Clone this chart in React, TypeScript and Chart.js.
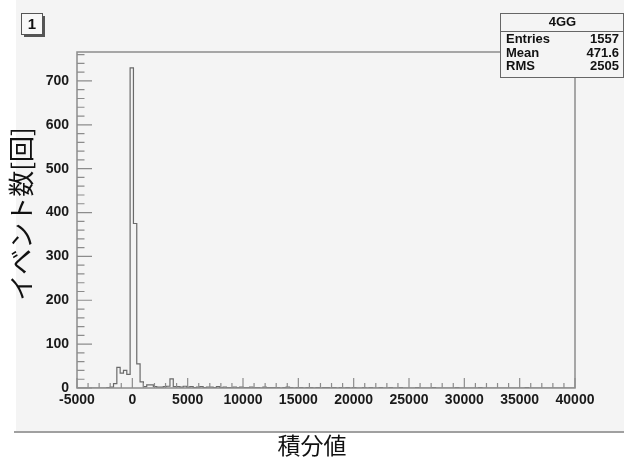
import React, { useEffect, useRef } from 'react';
import { Chart, registerables } from 'chart.js';

Chart.register(...registerables);

// ---- data ----
const X_MIN = -5000;
const X_MAX = 40000;
const BIN_WIDTH = 300;
const Y_MAX = 766;

// bin contents (150 bins of 300 from -5000 to 40000)
const counts: number[] = [
  0, 0, 0, 0, 0, 0, 0, 0, 0, 1,
  2, 10, 47, 34, 40, 31, 730, 375, 55, 14,
  3, 7, 7, 3, 2, 2, 3, 4, 21, 3,
  3, 2, 4, 2, 3, 1, 2, 3, 1, 2,
  2, 1, 3, 1, 2, 1, 1, 2, 1, 2,
  1, 1, 2, 1, 1, 0, 2, 1, 1, 1,
  1, 0, 1, 2, 1, 0, 1, 1, 0, 1,
  1, 0, 1, 0, 1, 1, 0, 1, 0, 1,
  0, 1, 0, 1, 0, 0, 1, 0, 1, 0,
  0, 1, 0, 0, 1, 0, 0, 1, 0, 0,
  0, 0, 1, 0, 0, 0, 0, 1, 0, 0,
  0, 0, 0, 0, 1, 0, 0, 0, 0, 0,
  0, 1, 0, 0, 0, 0, 0, 0, 0, 0,
  0, 0, 0, 0, 0, 1, 0, 0, 0, 0,
  0, 0, 0, 0, 0, 0, 0, 0, 0, 0,
];

const xTitle = '積分値';
const yTitle = 'イベント数[回]';
const padLabel = '1';
const statsTitle = '4GG';
const statsNames = ['Entries', 'Mean', 'RMS'];
const statsValues = ['1557', '471.6', '2505'];

const STATS_FONT = 'bold 13px "Liberation Sans", Arial, sans-serif';
const CJK_FAMILY = '"Noto Sans CJK JP", sans-serif';

export default function App() {
  const ref = useRef<HTMLCanvasElement | null>(null);

  useEffect(() => {
    document.body.style.margin = '0';
    const canvas = ref.current;
    if (!canvas) return;

    const points = counts.map((c, k) => ({ x: X_MIN + k * BIN_WIDTH, y: c }));
    points.push({ x: X_MIN + counts.length * BIN_WIDTH, y: 0 });

    const decor = {
      id: 'rootDecor',
      beforeDraw(chart: any) {
        const ctx = chart.ctx;
        ctx.save();
        ctx.fillStyle = '#ffffff';
        ctx.fillRect(0, 0, chart.width, chart.height);
        ctx.fillStyle = '#f4f4f4';
        ctx.fillRect(16, 0, chart.width - 16, 432);
        ctx.strokeStyle = '#a0a0a0';
        ctx.lineWidth = 2;
        ctx.beginPath();
        ctx.moveTo(14, 432);
        ctx.lineTo(chart.width, 432);
        ctx.stroke();
        ctx.restore();
      },
      afterDatasetsDraw(chart: any) {
        const ctx = chart.ctx;
        const { left, right, top, bottom } = chart.chartArea;
        const xs = chart.scales.x;
        const ys = chart.scales.y;
        ctx.save();
        ctx.strokeStyle = '#8c8c8c';
        ctx.lineWidth = 1.5;
        ctx.strokeRect(left, top, right - left, bottom - top);
        ctx.lineWidth = 1.2;
        ctx.beginPath();
        for (let v = X_MIN; v <= X_MAX; v += 1000) {
          const px = xs.getPixelForValue(v);
          const len = v % 5000 === 0 ? 10 : 5;
          ctx.moveTo(px, bottom);
          ctx.lineTo(px, bottom - len);
        }
        for (let v = 0; v <= Y_MAX; v += 20) {
          const py = ys.getPixelForValue(v);
          const len = v % 100 === 0 ? 15 : 7.5;
          ctx.moveTo(left, py);
          ctx.lineTo(left + len, py);
        }
        ctx.stroke();
        ctx.restore();
      },
      afterDraw(chart: any) {
        const ctx = chart.ctx;
        ctx.save();
        // axis titles
        ctx.fillStyle = '#111';
        ctx.textAlign = 'center';
        ctx.textBaseline = 'middle';
        ctx.font = `23px ${CJK_FAMILY}`;
        ctx.fillText(xTitle, 312, 445);
        ctx.save();
        ctx.translate(21, 214);
        ctx.rotate(-Math.PI / 2);
        ctx.font = `26px ${CJK_FAMILY}`;
        ctx.fillText(yTitle, 0, 0);
        ctx.restore();

        // pad label box
        ctx.fillStyle = '#f8f8f8';
        ctx.fillRect(21, 13, 21, 21);
        ctx.strokeStyle = '#555';
        ctx.lineWidth = 1;
        ctx.strokeRect(21.5, 13.5, 21, 21);
        ctx.lineWidth = 2;
        ctx.beginPath();
        ctx.moveTo(44, 16);
        ctx.lineTo(44, 36);
        ctx.lineTo(24, 36);
        ctx.stroke();
        ctx.fillStyle = '#111';
        ctx.font = 'bold 15px "Liberation Sans", Arial, sans-serif';
        ctx.fillText(padLabel, 32, 24.5);

        // stats box
        const bx = 500, by = 13, bw = 123, bh = 64;
        ctx.fillStyle = '#f4f4f4';
        ctx.fillRect(bx, by, bw, bh);
        ctx.strokeStyle = '#666';
        ctx.lineWidth = 1;
        ctx.strokeRect(bx + 0.5, by + 0.5, bw, bh);
        ctx.beginPath();
        ctx.moveTo(bx, 31.5);
        ctx.lineTo(bx + bw, 31.5);
        ctx.stroke();
        ctx.fillStyle = '#111';
        ctx.font = STATS_FONT;
        ctx.textAlign = 'center';
        ctx.fillText(statsTitle, bx + bw / 2 + 1, 22.5);
        const rowsY = [39, 53, 66.5];
        statsNames.forEach((n, i) => {
          ctx.textAlign = 'left';
          ctx.fillText(n, bx + 6, rowsY[i]);
          ctx.textAlign = 'right';
          ctx.fillText(statsValues[i], bx + bw - 4, rowsY[i]);
        });
        ctx.restore();
      },
    };

    const tickFont = { family: '"Liberation Sans", Arial, sans-serif', size: 14, weight: 'bold' };

    const chart = new Chart(canvas, {
      type: 'line',
      data: {
        datasets: [
          {
            data: points,
            stepped: true,
            borderColor: '#6a6a6a',
            borderWidth: 1.2,
            pointRadius: 0,
            fill: false,
          },
        ],
      },
      options: {
        responsive: false,
        animation: false,
        layout: { padding: { top: 52, right: 49, left: 0, bottom: 0 } },
        plugins: { legend: { display: false }, tooltip: { enabled: false } },
        scales: {
          x: {
            type: 'linear',
            min: X_MIN,
            max: X_MAX,
            grid: { display: false, drawTicks: false },
            border: { display: false },
            ticks: {
              stepSize: 5000,
              includeBounds: false,
              autoSkip: false,
              maxRotation: 0,
              padding: 4,
              color: '#1a1a1a',
              font: tickFont,
              callback: (v: any) => String(v),
            },
            afterFit(scale: any) {
              scale.height = 78;
            },
          },
          y: {
            type: 'linear',
            min: 0,
            max: Y_MAX,
            grid: { display: false, drawTicks: false },
            border: { display: false },
            ticks: {
              stepSize: 100,
              includeBounds: false,
              padding: 8,
              color: '#1a1a1a',
              font: tickFont,
              callback: (v: any) => String(v),
            },
            afterFit(scale: any) {
              scale.width = 77;
            },
          },
        },
      } as any,
      plugins: [decor],
    });

    return () => chart.destroy();
  }, []);

  return <canvas ref={ref} width={624} height={466} style={{ display: 'block' }} />;
}
